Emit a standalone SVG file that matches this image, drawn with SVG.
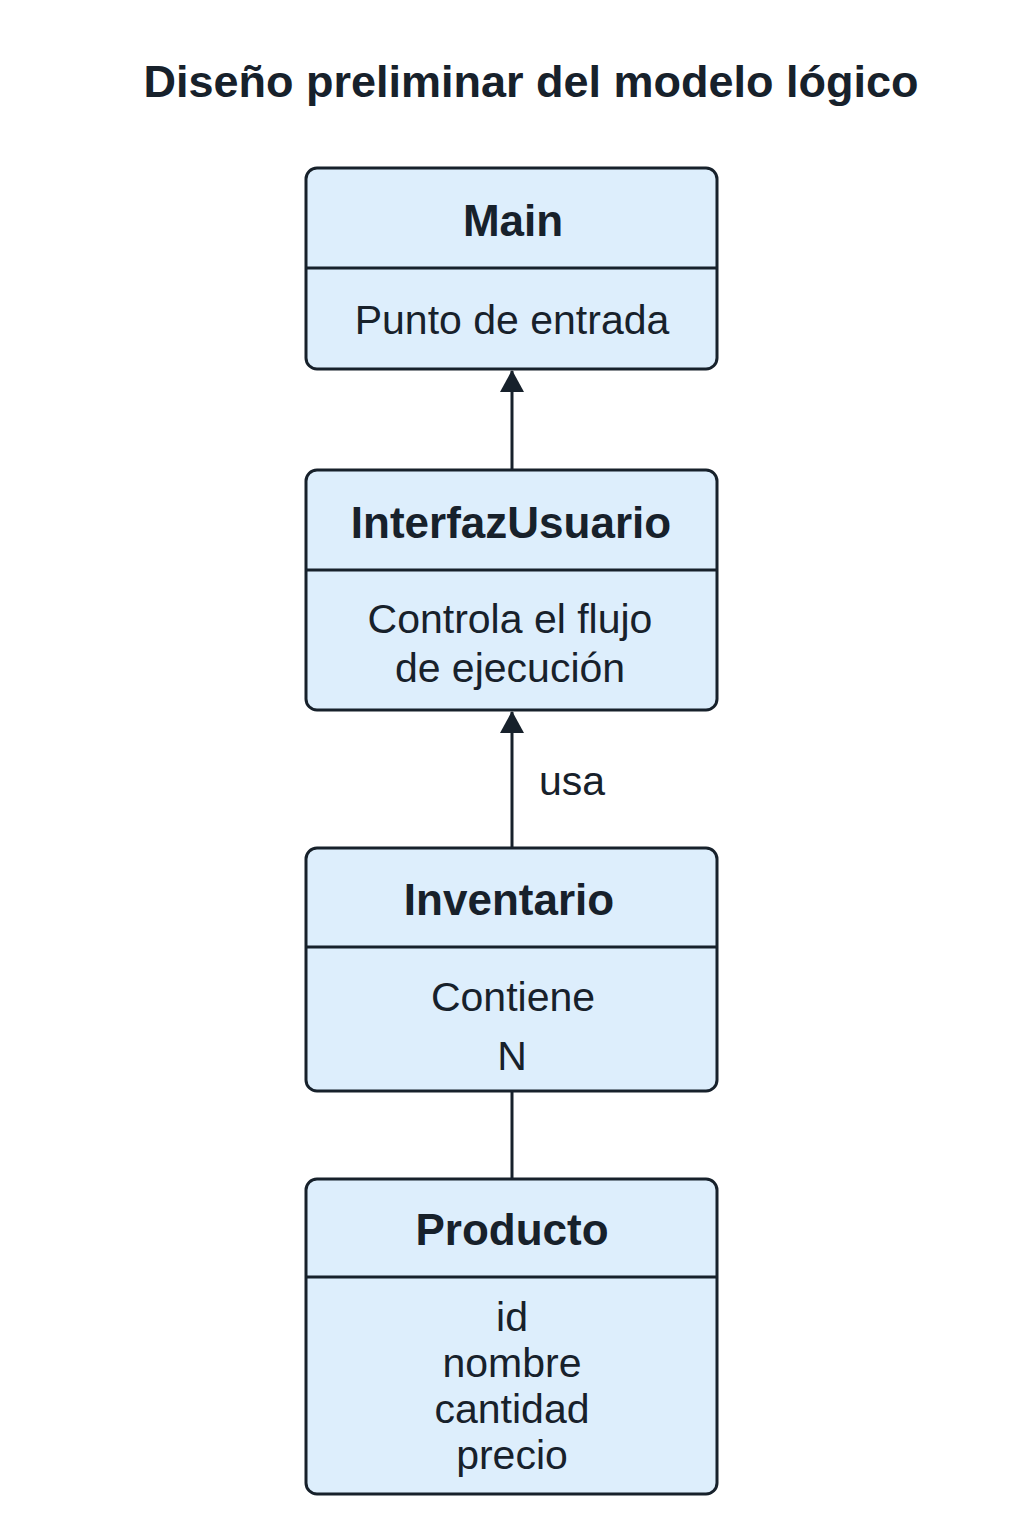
<svg xmlns="http://www.w3.org/2000/svg" width="1024" height="1536" viewBox="0 0 1024 1536">
<style>
.box{fill:#ddeefc;stroke:#17212b;stroke-width:3}
.div{stroke:#17212b;stroke-width:3}
.t{font-family:"Liberation Sans",Arial,sans-serif;fill:#17212b;text-anchor:middle}
.h{font-weight:bold;font-size:44px}
.b{font-size:41px}
.c{stroke:#17212b;stroke-width:3;fill:none}
</style>
<defs>
<marker id="arr" markerWidth="24" markerHeight="22" refX="12" refY="1" orient="0" markerUnits="userSpaceOnUse">
<path d="M0,22 L12,0 L24,22 Z" fill="#17212b"/>
</marker>
</defs>
<rect width="1024" height="1536" fill="#ffffff"/>
<text class="t" x="531" y="97" font-weight="bold" font-size="45">Diseño preliminar del modelo lógico</text>
<g id="connectors">
<line class="c" x1="512" y1="469" x2="512" y2="371" marker-end="url(#arr)"/>
<line class="c" x1="512" y1="848" x2="512" y2="712" marker-end="url(#arr)"/>
<text class="t b" x="572" y="795">usa</text>
<line class="c" x1="512" y1="1091" x2="512" y2="1179"/>
</g>
<g id="main">
<rect class="box" x="306" y="168" width="411" height="201" rx="11"/>
<line class="div" x1="306" y1="268" x2="717" y2="268"/>
<text class="t h" x="513" y="236">Main</text>
<text class="t b" x="512" y="334">Punto de entrada</text>
</g>
<g id="interfaz">
<rect class="box" x="306" y="470" width="411" height="240" rx="11"/>
<line class="div" x1="306" y1="570" x2="717" y2="570"/>
<text class="t h" x="511" y="538">InterfazUsuario</text>
<text class="t b" x="510" y="633">Controla el flujo</text>
<text class="t b" x="510" y="682">de ejecución</text>
</g>
<g id="inventario">
<rect class="box" x="306" y="848" width="411" height="243" rx="11"/>
<line class="div" x1="306" y1="947" x2="717" y2="947"/>
<text class="t h" x="509" y="915">Inventario</text>
<text class="t b" x="513" y="1011">Contiene</text>
<text class="t b" x="512" y="1070">N</text>
</g>
<g id="producto">
<rect class="box" x="306" y="1179" width="411" height="315" rx="11"/>
<line class="div" x1="306" y1="1277" x2="717" y2="1277"/>
<text class="t h" x="512" y="1245">Producto</text>
<text class="t b" x="512" y="1331">id</text>
<text class="t b" x="512" y="1377">nombre</text>
<text class="t b" x="512" y="1423">cantidad</text>
<text class="t b" x="512" y="1469">precio</text>
</g>
</svg>
